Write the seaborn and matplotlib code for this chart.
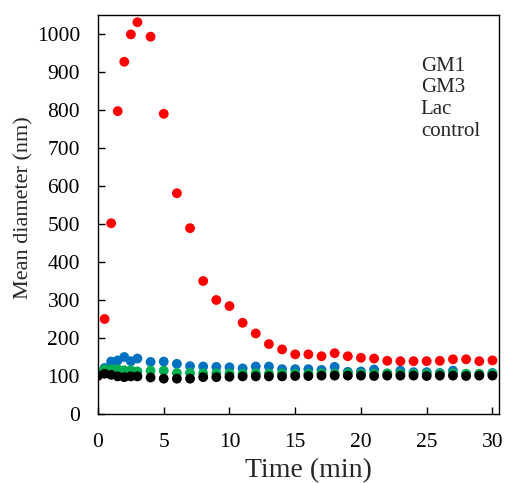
import pandas as pd
import matplotlib
matplotlib.use("Agg")
import matplotlib.pyplot as plt
import seaborn as sns

# tempi di misura (min)
time_min = [0, 0.5, 1, 1.5, 2, 2.5, 3] + list(range(4, 31))

gm1 = [100, 250, 502, 797, 927, 999, 1031,
       993, 790, 581, 489, 350, 300, 284, 240, 212, 184, 170, 157, 157, 152,
       160, 152, 148, 146, 140, 139, 139, 139, 140, 144, 144, 139, 141]
gm3 = [105, 121, 138, 141, 150, 139, 146,
       137, 138, 132, 126, 125, 124, 123, 120, 125, 125, 118, 118, 118, 116,
       124, 111, 112, 117, 106, 114, 110, 110, 108, 114, 105, 105, 108]
lac = [108, 117, 118, 118, 115, 115, 112,
       114, 114, 108, 108, 107, 107, 107, 106, 107, 106, 107, 106, 106, 107,
       106, 107, 106, 106, 107, 106, 106, 106, 106, 107, 106, 106, 106]
control = [101, 106, 103, 99, 97, 99, 99,
           96, 93, 93, 93, 97, 97, 98, 99, 99, 99, 99, 100, 100, 101,
           101, 101, 101, 100, 101, 101, 101, 100, 101, 101, 100, 101, 101]

series_names = ["GM1", "GM3", "Lac", "control"]
colors = ["#ff0000", "#0070c0", "#00b050", "#000000"]

df = pd.concat(
    [pd.DataFrame({"Time": time_min, "Diameter": vals, "Sample": name})
     for name, vals in zip(series_names, [gm1, gm3, lac, control])],
    ignore_index=True,
)

sns.set_style("ticks")
plt.rcParams["font.family"] = ["Liberation Serif", "DejaVu Serif"]

fig = plt.figure(figsize=(5.05, 4.83), dpi=100)
ax = fig.add_axes([98 / 505, 69 / 483, 401 / 505, 399 / 483])

sns.scatterplot(data=df, x="Time", y="Diameter", hue="Sample",
                hue_order=series_names, palette=colors,
                s=50, linewidth=0, ax=ax)

ax.set_xlim(0, 30.5)
ax.set_ylim(0, 1050)
ax.set_xticks(range(0, 31, 5))
ax.set_yticks(range(0, 1001, 100))
ax.tick_params(direction="in", length=5, width=1, labelsize=15.5, colors="black")
ax.tick_params(axis="x", pad=14)
ax.tick_params(axis="y", pad=13)
for sp in ax.spines.values():
    sp.set_visible(True)
    sp.set_color("black")
    sp.set_linewidth(1)

ax.set_xlabel("Time (min)", fontsize=20)
ax.set_ylabel("Mean diameter (nm)", fontsize=16)
ax.xaxis.set_label_coords(0.524, -0.110)
ax.yaxis.set_label_coords(-0.162, 0.516)

leg = ax.legend(loc="upper left", bbox_to_anchor=(0.805, 0.897), frameon=False,
                fontsize=15, handlelength=0, handletextpad=0, labelspacing=0.1,
                borderaxespad=0, borderpad=0)
for h in leg.legend_handles:
    h.set_visible(False)

plt.savefig("out.png", dpi=100)
